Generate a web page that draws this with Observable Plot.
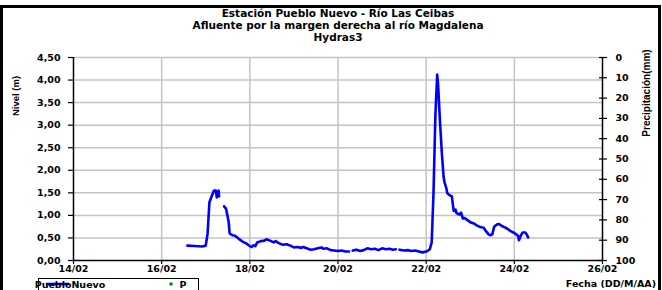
<!DOCTYPE html>
<html>
<head>
<meta charset="utf-8">
<script src="https://cdn.jsdelivr.net/npm/d3@7"></script>
<script src="https://cdn.jsdelivr.net/npm/@observablehq/plot@0.6"></script>
<style>
  html, body { margin: 0; padding: 0; background: #fff; }
  #chart { position: relative; width: 662px; height: 290px; overflow: hidden; }
</style>
</head>
<body>
<div id="chart"></div>
<script>
// ---------- data ----------
const titleLines = ["Estación Pueblo Nuevo - Río Las Ceibas", "Afluente por la margen derecha al río Magdalena", "Hydras3"];
const xTickLabels = ["14/02", "16/02", "18/02", "20/02", "22/02", "24/02", "26/02"];
const yTicks = [0, 0.5, 1, 1.5, 2, 2.5, 3, 3.5, 4, 4.5];
const precipTicks = [0, 10, 20, 30, 40, 50, 60, 70, 80, 90, 100];

// Nivel (m) - PuebloNuevo ; null = gap in record
const times = [
  "16/02 14:00","16/02 18:00","16/02 22:00","17/02 00:00","17/02 01:00","17/02 01:30","17/02 02:00","17/02 03:00","17/02 04:00","17/02 04:30","17/02 05:30","17/02 06:00","17/02 06:30","17/02 07:00","17/02 07:15",
  "17/02 08:30",
  "17/02 10:00","17/02 11:00","17/02 11:30","17/02 12:30","17/02 13:00","17/02 14:30","17/02 16:00","17/02 18:00","17/02 20:00","17/02 22:00",
  "18/02 00:00","18/02 01:00","18/02 02:00","18/02 03:00","18/02 04:00","18/02 06:00","18/02 08:00","18/02 09:00","18/02 11:00","18/02 13:00","18/02 14:00","18/02 16:00","18/02 18:00","18/02 20:00","18/02 22:00",
  "19/02 00:00","19/02 02:00","19/02 04:00","19/02 05:00","19/02 07:00","19/02 09:00","19/02 11:00","19/02 13:00","19/02 15:00","19/02 16:00","19/02 18:00","19/02 20:00","19/02 22:00",
  "20/02 00:00","20/02 02:00","20/02 04:00","20/02 06:00","20/02 07:00",
  "20/02 08:00","20/02 10:00","20/02 12:00","20/02 14:00","20/02 16:00","20/02 18:00","20/02 20:00","20/02 22:00",
  "21/02 00:00","21/02 02:00","21/02 04:00","21/02 06:00","21/02 07:30","21/02 08:30",
  "21/02 09:30","21/02 12:00","21/02 14:00","21/02 16:00","21/02 18:00","21/02 20:00","21/02 22:00",
  "22/02 00:00","22/02 01:00","22/02 02:00","22/02 03:00","22/02 04:00","22/02 05:00","22/02 06:00","22/02 06:30","22/02 07:30","22/02 08:30","22/02 09:30","22/02 10:00","22/02 11:00","22/02 11:30","22/02 13:00","22/02 14:00","22/02 14:30","22/02 15:00","22/02 16:00","22/02 16:30","22/02 18:00","22/02 19:00","22/02 20:00","22/02 21:00",
  "23/02 00:00","23/02 02:00","23/02 03:30","23/02 05:00","23/02 06:00","23/02 07:30","23/02 08:00","23/02 09:00","23/02 10:00","23/02 11:00","23/02 12:00","23/02 13:00","23/02 14:30","23/02 15:30","23/02 17:00","23/02 18:30","23/02 20:00","23/02 22:00",
  "24/02 00:00","24/02 01:00","24/02 02:00","24/02 02:30","24/02 03:30","24/02 04:30","24/02 06:00","24/02 07:00","24/02 07:30"
];
const nivel = [
  0.33,0.32,0.31,0.33,0.60,0.95,1.29,1.40,1.50,1.55,1.55,1.40,1.48,1.55,1.42,
  null,
  1.20,1.15,1.06,0.85,0.60,0.56,0.55,0.48,0.42,0.38,
  0.32,0.30,0.34,0.32,0.40,0.43,0.44,0.47,0.44,0.40,0.43,0.38,0.35,0.36,0.33,
  0.29,0.30,0.28,0.30,0.27,0.24,0.25,0.27,0.29,0.26,0.27,0.23,0.22,
  0.21,0.22,0.20,0.20,null,
  0.22,0.24,0.21,0.23,0.27,0.25,0.26,0.23,
  0.27,0.25,0.26,0.24,0.25,null,
  0.24,0.22,0.23,0.21,0.22,0.20,0.18,
  0.20,0.22,0.25,0.40,1.50,3.20,4.12,3.90,3.10,2.40,1.85,1.73,1.60,1.49,1.44,1.42,1.25,1.10,1.13,1.05,1.02,1.06,0.93,0.94,
  0.85,0.82,0.78,0.75,0.74,0.72,0.68,0.63,0.58,0.56,0.58,0.75,0.80,0.81,0.77,0.74,0.71,0.65,
  0.61,0.58,0.55,0.45,0.55,0.62,0.62,0.56,0.51
];
// Precipitación (mm) - P : no readings shown
const precipTimes = [];
const precip = [];

// ---------- build ----------
const parseT = d3.utcParse("%d/%m %H:%M");
const parseD = d3.utcParse("%d/%m");
const series = times.map((t, i) => ({date: parseT(t), nivel: nivel[i]}));
const rain = precipTimes.map((t, i) => ({date: parseT(t), p: precip[i]}));
const xTicks = xTickLabels.map(parseD);
const yMax = 4.5;
const pToY = p => yMax * (1 - p / 100);
const rightTicks = precipTicks.map(pToY);
const fmtComma = d => d.toFixed(2).replace(".", ",");
const fmtX = d3.utcFormat("%d/%m");

const plot = Plot.plot({
  width: 662,
  height: 290,
  marginLeft: 73,
  marginRight: 60,
  marginTop: 57,
  marginBottom: 30,
  style: {fontFamily: "'DejaVu Sans', sans-serif", fontWeight: "bold", fontSize: "9.5px", color: "#000", background: "transparent"},
  x: {type: "utc", domain: [xTicks[0], xTicks[xTicks.length - 1]]},
  y: {domain: [0, yMax]},
  marks: [
    Plot.gridX(xTicks.slice(1, -1), {stroke: "#c4c4c4", strokeOpacity: 1, strokeWidth: 1.5}),
    Plot.gridY(yTicks.slice(1), {stroke: "#c4c4c4", strokeOpacity: 1, strokeWidth: 1.5}),
    Plot.ruleY([0], {stroke: "#000", strokeWidth: 1.5}),
    Plot.ruleX([xTicks[0], xTicks[xTicks.length - 1]], {stroke: "#000", strokeWidth: 1.5}),
    Plot.axisY({anchor: "left", ticks: yTicks, tickSize: 5, tickPadding: 8, tickFormat: fmtComma, label: null, stroke: "#000", strokeWidth: 1.2}),
    Plot.axisY({anchor: "right", ticks: rightTicks, tickSize: 8, dx: -4, tickFormat: () => "", label: null, stroke: "#000", strokeWidth: 1.2}),
    Plot.axisY({anchor: "right", ticks: rightTicks, tickSize: 0, tickPadding: 13, textAnchor: "start", tickFormat: v => String(Math.round((1 - v / yMax) * 100)), label: null}),
    Plot.axisX({ticks: xTicks, tickSize: 4, tickPadding: 1, tickFormat: fmtX, label: null, stroke: "#000", strokeWidth: 1.2}),
    Plot.line(series, {x: "date", y: "nivel", stroke: "#0000ff", strokeWidth: 2.6, curve: "linear"}),
    Plot.dot(rain, {x: "date", y: d => pToY(d.p), fill: "#008000", r: 1.5})
  ]
});
document.getElementById("chart").appendChild(plot);

// ---------- decorations: titles, axis labels, legend, border ----------
const svg = d3.select(plot);
const titleG = svg.append("g").attr("font-family", "'DejaVu Sans', sans-serif").attr("font-weight", "bold").attr("font-size", "10.5px").attr("text-anchor", "middle").attr("fill", "#000");
titleLines.forEach((t, i) => titleG.append("text").attr("x", 338).attr("y", 17 + i * 12).text(t));

svg.append("text").attr("transform", "translate(19,96) rotate(-90)").attr("text-anchor", "middle")
  .attr("font-family", "'Liberation Sans', Arial, sans-serif").attr("font-weight", "bold").attr("font-size", "9.5px").text("Nivel (m)");
svg.append("text").attr("transform", "translate(650,93) rotate(-90)").attr("text-anchor", "middle")
  .attr("font-family", "'Liberation Sans', Arial, sans-serif").attr("font-size", "10px").text("Precipitación(mm)");
svg.append("text").attr("x", 656).attr("y", 287).attr("text-anchor", "end")
  .attr("font-family", "'DejaVu Sans', sans-serif").attr("font-weight", "bold").attr("font-size", "9.5px").text("Fecha (DD/M/AA)");

const leg = svg.append("g").attr("font-family", "'DejaVu Sans', sans-serif").attr("font-weight", "bold").attr("font-size", "9.5px");
leg.append("rect").attr("x", 38.5).attr("y", 278.5).attr("width", 160).attr("height", 20).attr("fill", "#fff").attr("stroke", "#000").attr("stroke-width", 1);
leg.append("line").attr("x1", 46).attr("x2", 69).attr("y1", 284).attr("y2", 284).attr("stroke", "#0000ff").attr("stroke-width", 2.6);
leg.append("text").attr("x", 70).attr("y", 288).text("PuebloNuevo");
leg.append("rect").attr("x", 169.5).attr("y", 282.5).attr("width", 3).attr("height", 3).attr("fill", "#008000");
leg.append("text").attr("x", 183).attr("y", 288).text("P");

svg.append("rect").attr("x", 1.5).attr("y", 6.5).attr("width", 658).attr("height", 300)
  .attr("fill", "none").attr("stroke", "#000").attr("stroke-width", 3);
</script>
</body>
</html>
